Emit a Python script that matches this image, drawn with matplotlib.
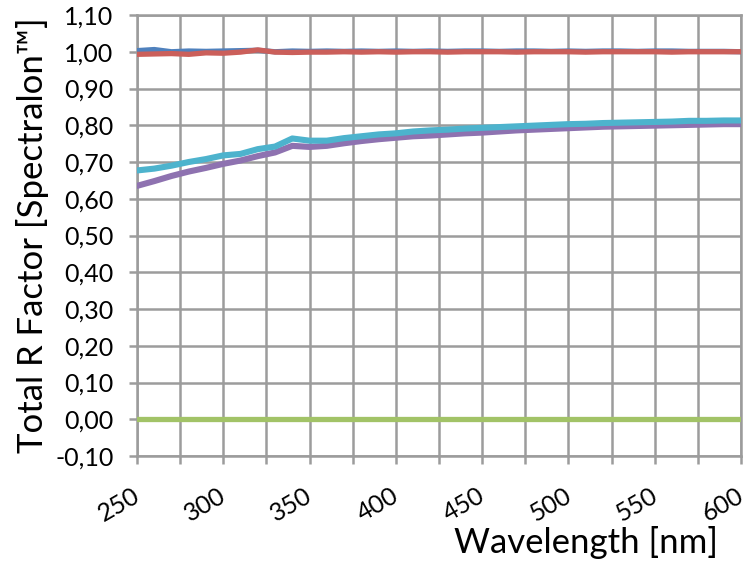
import matplotlib
matplotlib.use('Agg')
import matplotlib.pyplot as plt
import matplotlib.transforms as mtransforms
from matplotlib.ticker import MultipleLocator, FuncFormatter

plt.rcParams['font.family'] = ['Lato', 'DejaVu Sans']

# wavelength grid [nm]
wavelength = [250, 260, 270, 280, 290, 300, 310, 320, 330, 340, 350, 360,
              370, 380, 390, 400, 410, 420, 430, 440, 450, 460, 470, 480,
              490, 500, 510, 520, 530, 540, 550, 560, 570, 580, 590, 600]

# total R factor relative to Spectralon, per sample
blue = [1.003, 1.006, 1.000, 1.002, 1.001, 1.002, 1.003, 1.004, 1.000, 1.002, 1.001, 1.002,
        1.001, 1.002, 1.001, 1.002, 1.001, 1.002, 1.001, 1.002, 1.002, 1.001, 1.002, 1.002,
        1.001, 1.002, 1.001, 1.002, 1.002, 1.001, 1.002, 1.002, 1.001, 1.001, 1.001, 1.000]
red = [0.993, 0.994, 0.995, 0.993, 0.997, 0.996, 0.999, 1.005, 0.999, 0.998, 0.999, 0.999,
       1.000, 0.999, 1.000, 0.999, 1.000, 1.000, 0.999, 1.000, 1.000, 1.000, 0.999, 1.000,
       1.000, 1.000, 0.999, 1.000, 1.000, 1.000, 1.000, 0.999, 1.000, 1.000, 1.000, 1.000]
green = [0.000] * 36
purple = [0.635, 0.648, 0.662, 0.674, 0.684, 0.695, 0.704, 0.716, 0.726, 0.744, 0.741, 0.744,
          0.751, 0.757, 0.762, 0.766, 0.770, 0.772, 0.775, 0.778, 0.780, 0.783, 0.786, 0.788,
          0.790, 0.792, 0.794, 0.796, 0.797, 0.798, 0.799, 0.800, 0.801, 0.802, 0.803, 0.803]
cyan = [0.677, 0.682, 0.690, 0.700, 0.708, 0.718, 0.722, 0.735, 0.742, 0.764, 0.758, 0.758,
        0.765, 0.770, 0.775, 0.778, 0.783, 0.786, 0.788, 0.791, 0.793, 0.795, 0.797, 0.799,
        0.801, 0.803, 0.804, 0.806, 0.807, 0.808, 0.809, 0.810, 0.812, 0.812, 0.813, 0.813]

GRID = '#9c9c9c'

fig = plt.figure(figsize=(7.48, 5.65), dpi=100)
ax = fig.add_axes([137 / 748, 1 - 456 / 565, 604 / 748, 441 / 565])

series = [(blue, '#4F81BD', 3.8), (red, '#CB5F5A', 3.8), (green, '#A2C367', 3.8),
          (purple, '#8E72B0', 4.4), (cyan, '#4DB3CD', 4.4)]
for vals, col, lw in series:
    ax.plot(wavelength, vals, color=col, lw=lw, solid_capstyle='round',
            solid_joinstyle='round', zorder=3)

ax.set_xlim(250, 600)
ax.set_ylim(-0.1, 1.1)
ax.xaxis.set_major_locator(MultipleLocator(50))
ax.xaxis.set_minor_locator(MultipleLocator(25))
ax.yaxis.set_major_locator(MultipleLocator(0.1))
ax.yaxis.set_major_formatter(FuncFormatter(lambda v, p: f'{v:.2f}'.replace('.', ',')))

ax.grid(True, which='both', axis='x', color=GRID, lw=1.8)
ax.grid(True, which='major', axis='y', color=GRID, lw=1.8)
ax.set_axisbelow(True)
for s in ax.spines.values():
    s.set_color(GRID)
    s.set_linewidth(1.8)

ax.tick_params(axis='both', which='both', direction='out', length=6, width=1.8,
               color=GRID, labelsize=18)
ax.tick_params(axis='y', pad=11)
ax.tick_params(axis='x', pad=14)
# nudge the rotated labels a few pixels left so the last one stays inside
nudge = mtransforms.ScaledTranslation(-5 / 100, 0, fig.dpi_scale_trans)
for lab in ax.get_xticklabels():
    lab.set_rotation(30)
    lab.set_ha('right')
    lab.set_rotation_mode('anchor')
    lab.set_transform(lab.get_transform() + nudge)

ax.set_ylabel('Total R Factor [Spectralon\u2122]', fontsize=25, labelpad=4)
fig.text(718 / 748, 1 - 553 / 565, 'Wavelength [nm]', fontsize=25,
         ha='right', va='baseline')

fig.savefig('out.png', dpi=100)
